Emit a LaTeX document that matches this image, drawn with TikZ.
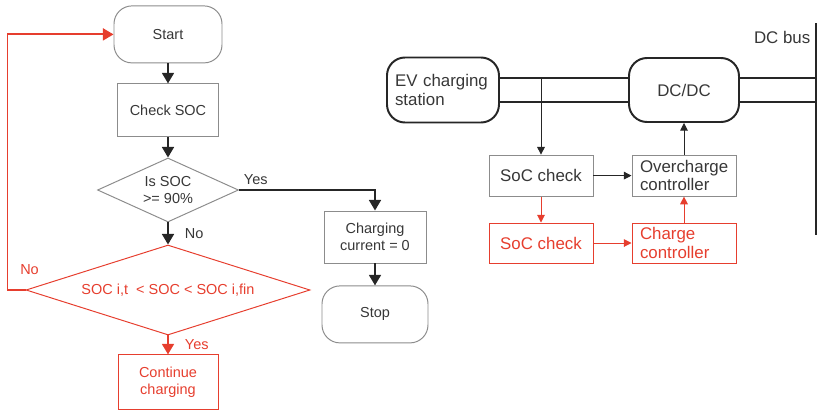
\documentclass[tikz,border=0pt]{standalone}
\usepackage{fontspec}
\setmainfont{Liberation Sans}
\usetikzlibrary{arrows.meta,shapes.geometric,calc}
\definecolor{flowred}{RGB}{230,62,46}
\definecolor{boxgray}{RGB}{140,140,140}
\definecolor{txtgray}{RGB}{55,55,55}

\begin{document}
\begin{tikzpicture}[
            block/.style={draw=boxgray, rectangle, line width=0.7pt, align=center, text=txtgray, inner sep=0pt, font=\fontsize{10.3}{11.8}\selectfont},
            term/.style={block, rounded corners=0.45cm},
            decision/.style={block, diamond, aspect=2.5},
            redblock/.style={block, draw=flowred, text=flowred},
            reddecision/.style={decision, draw=flowred, text=flowred, aspect=3.2},
            lbl/.style={font=\fontsize{10.3}{12}\selectfont, text=txtgray},
            arrow/.style={-{Triangle[width=8.5pt,length=7.5pt]}, line width=1.3pt, color=black!85},
            redarrow/.style={arrow, color=flowred},
            unit/.style={draw=black!85, rectangle, line width=1.4pt, rounded corners=0.45cm, text=txtgray, font=\fontsize{12}{13.5}\selectfont},
            ctrl/.style={draw=boxgray, rectangle, line width=0.7pt, minimum width=2.6cm, text=txtgray, inner sep=0pt, font=\fontsize{12}{13}\selectfont},
            redctrl/.style={ctrl, draw=flowred, text=flowred},
            sarrow/.style={-{Triangle[width=5.5pt,length=5.5pt]}, line width=0.7pt, color=black!85},
            sredarrow/.style={sarrow, color=flowred},
            busline/.style={line width=1.6pt, color=black!85}
        ]
            \useasboundingbox (0,0) rectangle (20.425,-10.325);

% Flow chart on the left
            \node (start) [term, minimum width=2.7cm, minimum height=1.425cm] at (4.2,-0.86) {Start};
            \node (check) [block, minimum width=2.525cm, minimum height=1.325cm] at (4.2,-2.76) {Check SOC};
            \node (limit) [decision, minimum width=3.525cm, minimum height=1.6cm] at (4.2,-4.75) {Is SOC \\ >= 90\%};
            \node (range) [reddecision, minimum width=7.1cm, minimum height=2.25cm] at (4.2,-7.25) {SOC i,t\ \ < SOC < SOC i,fin};
            \node (cont) [redblock, minimum width=2.5cm, minimum height=1.375cm] at (4.2,-9.56) {Continue \\ charging};

            \node (zero) [block, minimum width=2.55cm, minimum height=1.3cm] at (9.375,-5.925) {Charging \\ current = 0};
            \node (stop) [term, minimum width=2.65cm, minimum height=1.425cm] at (9.375,-7.86) {Stop};

            \draw [arrow] (start) -- (check);
            \draw [arrow] (check) -- (limit);
            \draw [arrow] (limit) -- (range);
            \draw [arrow] (limit.east) -| (zero.north);
            \draw [arrow] (zero) -- (stop);
            \draw [redarrow] (range) -- (cont);
            \draw [redarrow] (range.west) -- ++(-0.45,0) |- (start.west);

% Branch labels
            \node (yes1) [lbl, above right] at (limit.east) {Yes};
            \node (no1) [lbl, right, xshift=0.3cm] at ($(limit.south)!0.5!(range.north)$) {No};
            \node (no2) [lbl, text=flowred] at ([xshift=0.1cm,yshift=0.5cm]range.west) {No};
            \node (yes2) [lbl, text=flowred, right, xshift=0.3cm] at ($(range.south)!0.5!(cont.north)$) {Yes};

% Charging system on the right
            \node (ev) [unit, text width=2.4cm, align=left, inner sep=0.2cm, minimum height=1.625cm] at (11.075,-2.25) {EV charging \\ station};
            \node (dcdc) [unit, minimum width=2.75cm, minimum height=1.6cm] at (17.1,-2.25) {DC/DC};

            \node (soca) [ctrl, minimum height=1.025cm] at (13.525,-4.39) {SoC check};
            \node (over) [ctrl, minimum height=1.025cm, text width=2.2cm, align=left] at (17.1,-4.39) {Overcharge \\ controller};
            \node (socb) [redctrl, minimum height=1.0cm] at (13.525,-6.075) {SoC check};
            \node (charge) [redctrl, minimum height=1.0cm, text width=2.2cm, align=left] at (17.1,-6.075) {Charge \\ controller};

            \coordinate (bustop) at (20.4,-0.575);
            \coordinate (busbot) at (20.4,-5.875);
            \node (buslbl) [anchor=east, inner sep=1pt, text=txtgray, font=\fontsize{12}{13.5}\selectfont] at (20.3,-0.93) {DC bus};

            \draw [line width=1.4pt, color=black!85] (bustop) -- (busbot);
            \draw [busline] ([yshift=0.3cm]ev.east) -- ([yshift=0.3cm]dcdc.west);
            \draw [busline] ([yshift=-0.3cm]ev.east) -- ([yshift=-0.3cm]dcdc.west);
            \draw [busline] ([yshift=0.3cm]dcdc.east) -- ([yshift=0.3cm]dcdc.east -| bustop);
            \draw [busline] ([yshift=-0.3cm]dcdc.east) -- ([yshift=-0.3cm]dcdc.east -| bustop);

            \coordinate (tap) at (soca.north |- 0,-1.95);
            \draw [sarrow] (tap) -- (soca.north);
            \draw [sarrow] (soca) -- (over);
            \draw [sarrow] (over) -- (dcdc);
            \draw [sredarrow] (soca) -- (socb);
            \draw [sredarrow] (socb) -- (charge);
            \draw [sredarrow] (charge) -- (over);

        \end{tikzpicture}
\end{document}
